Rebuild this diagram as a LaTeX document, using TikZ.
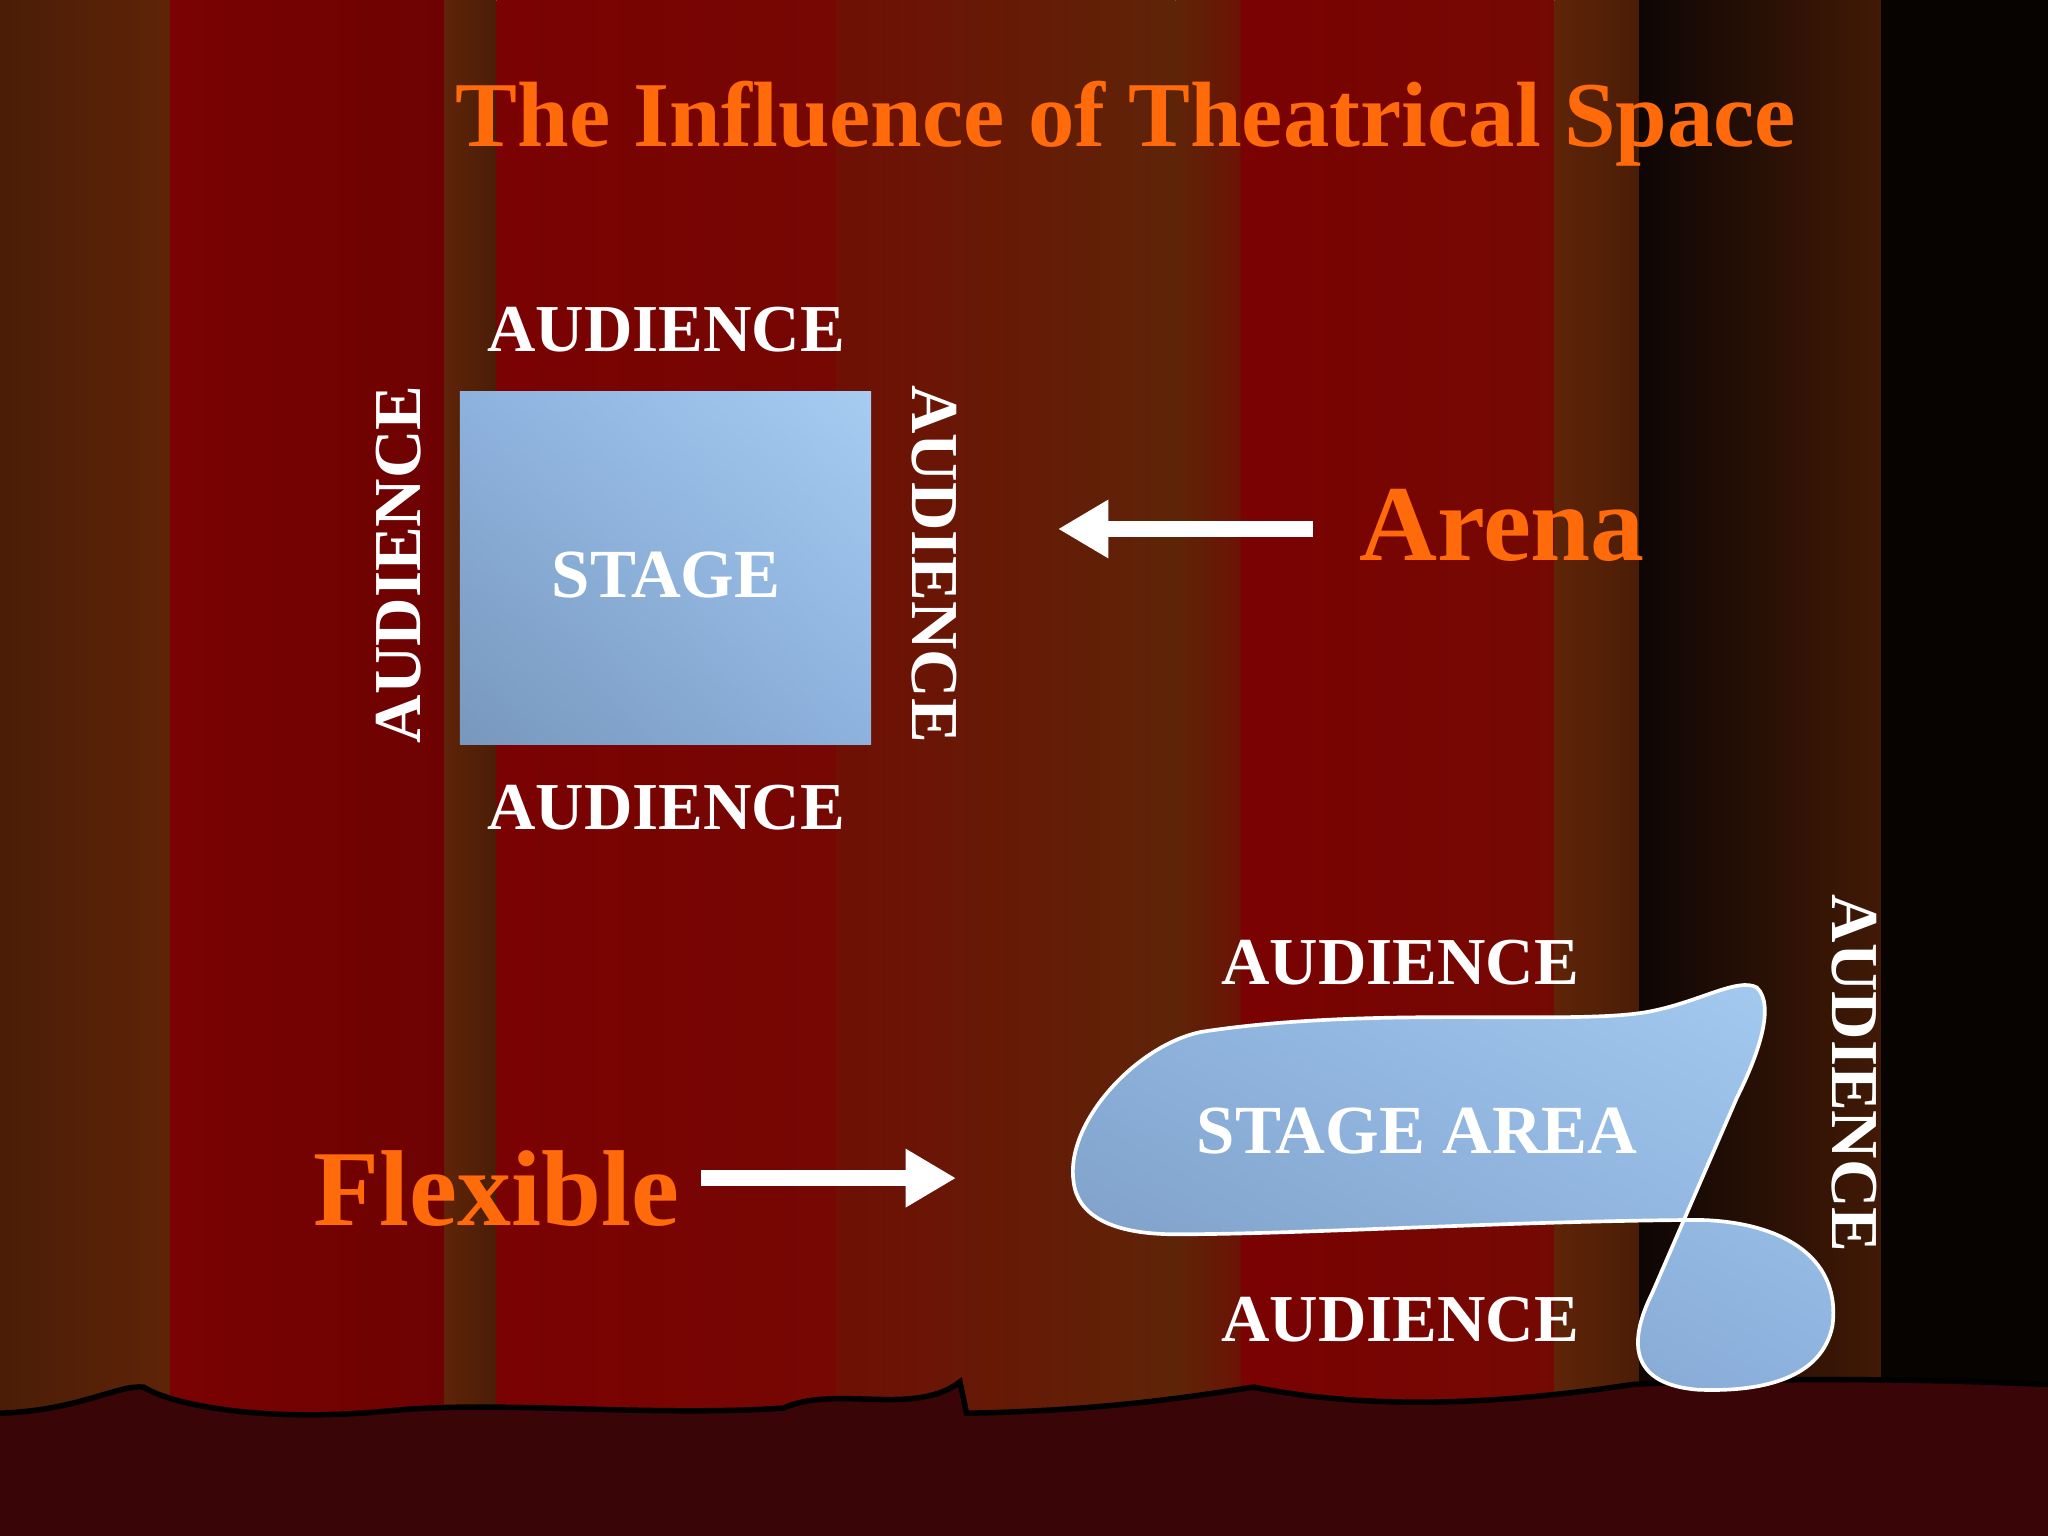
\documentclass[tikz,border=0pt]{standalone}
\usepackage{fontspec}
\setmainfont{Liberation Serif}
\usetikzlibrary{arrows.meta,shadings}
\begin{document}
\begin{tikzpicture}[x=0.01cm,y=-0.01cm,
  aud/.style={text=white,font=\bfseries\fontsize{14.6}{14.6}\selectfont,inner sep=0pt},
  orng/.style={text=orange1,font=\bfseries,inner sep=0pt},
  warrow/.style={draw=white,line width=3.6pt,-{Triangle[length=11pt,width=12pt]}},
  bluefill/.style={lower left=sblue!85!black,upper right=sblue2,lower right=sblue,upper left=sblue}]
\definecolor{brn}{HTML}{5E2408}
\definecolor{rd}{HTML}{7A0202}
\definecolor{dk}{HTML}{0E0605}
\definecolor{orange1}{HTML}{FF6A0A}
\definecolor{flr}{HTML}{3A0507}
\definecolor{sblue}{HTML}{8DB2DE}
\definecolor{sblue2}{HTML}{A6CCF2}
\useasboundingbox (0,0) rectangle (1568,1176);
\shade[left color=brn!80!black,right color=brn] (0,0) rectangle (130,1176);
\shade[left color=rd,right color=rd!90!black] (130,0) rectangle (340,1176);
\shade[left color=brn,right color=brn!80!black] (340,0) rectangle (380,1176);
\shade[left color=rd,right color=rd!85!brn] (380,0) rectangle (640,1176);
\shade[left color=rd!60!brn,right color=brn] (640,0) rectangle (900,1176);
\shade[left color=brn,right color=rd!50!brn] (900,0) rectangle (950,1176);
\shade[left color=rd,right color=rd!80!brn] (950,0) rectangle (1190,1176);
\shade[left color=brn,right color=brn!80!black] (1190,0) rectangle (1255,1176);
\shade[left color=dk,right color=brn!70!black] (1255,0) rectangle (1440,1176);
\fill[black!92!brn] (1440,0) rectangle (1568,1176);
\fill[flr] (0,1082) .. controls (60,1080) and (90,1060) .. (110,1062) .. controls (130,1075) and (200,1090) .. (300,1080)
 .. controls (380,1072) and (500,1085) .. (600,1078) .. controls (640,1060) and (700,1085) .. (735,1058)
 -- (740,1082) .. controls (850,1080) and (920,1068) .. (960,1062) .. controls (1050,1080) and (1150,1075) .. (1250,1060)
 .. controls (1350,1055) and (1450,1055) .. (1568,1060) -- (1568,1176) -- (0,1176) -- cycle;
\draw[black,line width=1.2pt] (0,1082) .. controls (60,1080) and (90,1060) .. (110,1062) .. controls (130,1075) and (200,1090) .. (300,1080)
 .. controls (380,1072) and (500,1085) .. (600,1078) .. controls (640,1060) and (700,1085) .. (735,1058)
 -- (740,1082) .. controls (850,1080) and (920,1068) .. (960,1062) .. controls (1050,1080) and (1150,1075) .. (1250,1060)
 .. controls (1350,1055) and (1450,1055) .. (1568,1060);
\node[orng,font=\bfseries\fontsize{20.2}{20.2}\selectfont] (title) at (862,95) {The Influence of Theatrical Space};
% arena
\shade[bluefill] (352,300) rectangle (667,570);
\node[aud,font=\bfseries\fontsize{15}{15}\selectfont] (stage) at (510,440) {STAGE};
\node[aud] (a1) at (510,252) {AUDIENCE};
\node[aud] (a2) at (510,618) {AUDIENCE};
\node[aud,rotate=90] (a3) at (305,432) {AUDIENCE};
\node[aud,rotate=-90] (a4) at (715,432) {AUDIENCE};
\node[orng,font=\bfseries\fontsize{23.5}{23.5}\selectfont] (arena) at (1150,402) {Arena};
\coordinate (ar1) at (1005,405); \coordinate (ar2) at (810,405);
\draw[warrow] (ar1) -- (ar2);
% flexible
\node[orng,font=\bfseries\fontsize{23.5}{23.5}\selectfont] (flex) at (380,910) {Flexible};
\coordinate (f1) at (537,902); \coordinate (f2) at (732,902);
\draw[warrow] (f1) -- (f2);
\shade[draw=white,line width=0.8pt,bluefill]
 (822,905) .. controls (815,860) and (870,800) .. (920,790)
 .. controls (1050,770) and (1200,785) .. (1260,775)
 .. controls (1300,768) and (1330,748) .. (1345,756)
 .. controls (1360,770) and (1345,810) .. (1330,840)
 -- (1265,990) .. controls (1245,1030) and (1250,1060) .. (1300,1064)
 .. controls (1350,1066) and (1395,1055) .. (1403,1015)
 .. controls (1410,960) and (1360,935) .. (1300,934)
 .. controls (1150,935) and (1000,945) .. (900,945)
 .. controls (850,945) and (825,930) .. (822,905) -- cycle;
\node[aud,font=\bfseries\fontsize{15}{15}\selectfont] (sa) at (1085,866) {STAGE AREA};
\node[aud] (b1) at (1072,737) {AUDIENCE};
\node[aud] (b2) at (1072,1010) {AUDIENCE};
\node[aud,rotate=-90] (b3) at (1420,822) {AUDIENCE};
\end{tikzpicture}
\end{document}
